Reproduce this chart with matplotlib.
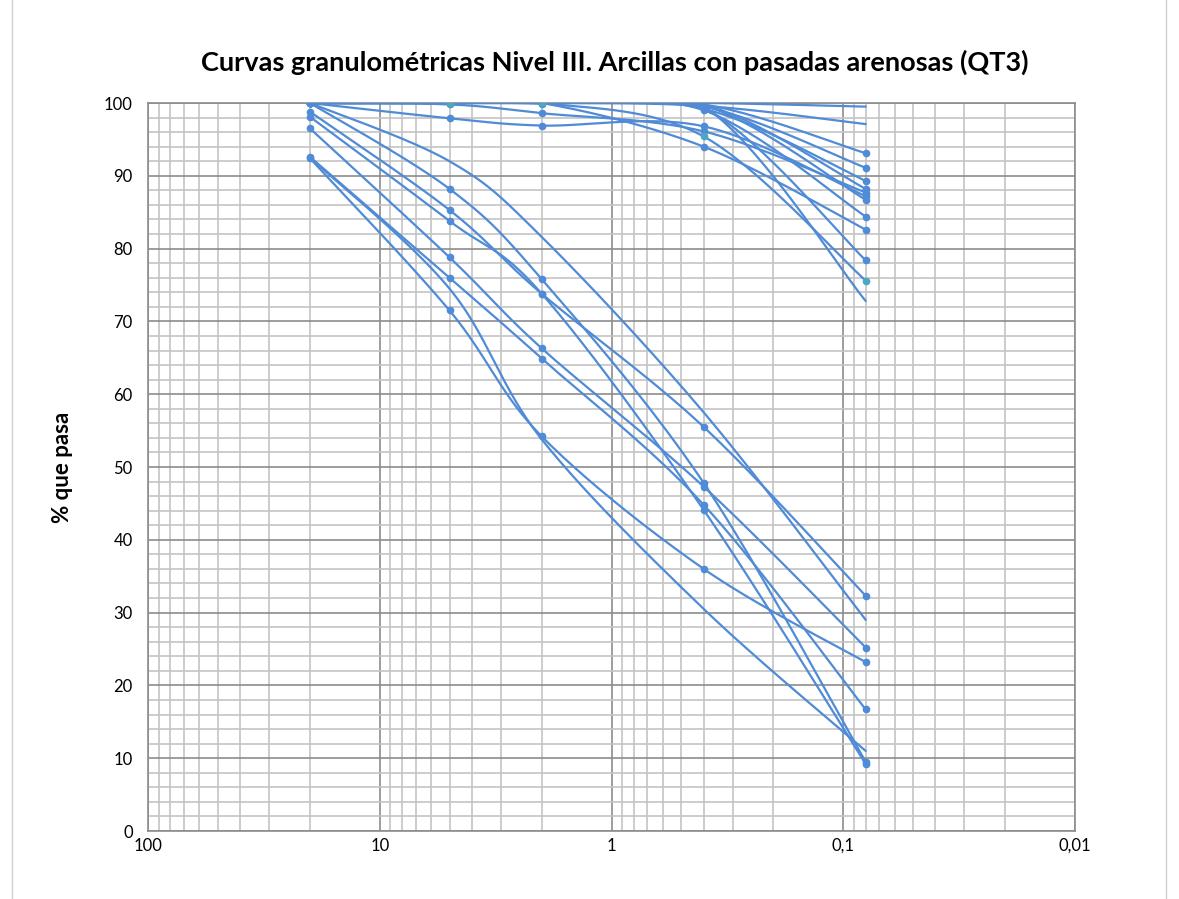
import numpy as np
import matplotlib.pyplot as plt
from matplotlib.ticker import FixedLocator, FuncFormatter, MultipleLocator
from matplotlib.patches import Rectangle

# abertura de tamices (mm)
tamices = [20, 5, 2, 0.4, 0.08]

# % que pasa por cada tamiz
m01 = [100, 100, 100, 100, 99.5]
m02 = [100, 100, 100, 99.6, 97.1]
m03 = [100, 100, 100, 99.8, 93.1]
m04 = [100, 100, 100, 99.5, 91.1]
m05 = [100, 100, 100, 99.2, 89.3]
m06 = [100, 100, 100, 99.8, 88.2]
m07 = [100, 99.8, 98.6, 96.1, 87.7]
m08 = [100, 97.9, 96.9, 96.8, 87.2]
m09 = [100, 100, 100, 99.7, 86.7]
m10 = [100, 100, 99.9, 99.0, 84.4]
m11 = [100, 100, 100, 94.0, 82.6]
m12 = [100, 100, 100, 99.3, 78.4]
m13 = [100, 100, 100, 95.4, 75.6]
m14 = [100, 100, 100, 99.5, 72.8]
m15 = [100, 88.2, 75.8, 47.8, 9.5]
m16 = [98.8, 85.3, 73.8, 55.5, 32.3]
m17 = [98.1, 83.8, 73.8, 44.1, 9.2]
m18 = [100, 92.0, 81.6, 57.5, 29.0]
m19 = [96.5, 78.8, 66.3, 47.3, 25.2]
m20 = [92.6, 76.0, 64.9, 44.8, 16.7]
m21 = [92.4, 71.5, 54.2, 36.0, 23.2]
m22 = [92.5, 74.5, 53.8, 30.5, 11.0]

muestras = [m01, m02, m03, m04, m05, m06, m07, m08, m09, m10, m11,
            m12, m13, m14, m15, m16, m17, m18, m19, m20, m21, m22]
sin_marcador = [m01, m02, m14, m18, m22]

azul = '#4f8bd6'
turquesa = '#4aa8c0'

# escala: pixeles por decada / pixeles por unidad de %
k = 231.75 / 7.28


def suavizar(xs, ys, n=40):
    # curva bezier tipo Excel en el espacio (log x, y)
    u = -np.log10(np.array(xs, dtype=float)) * k
    v = np.array(ys, dtype=float)
    p = np.column_stack([u, v])
    m = len(p)
    out = [p[0]]
    t = np.linspace(0, 1, n)[1:, None]
    for i in range(m - 1):
        a = p[i - 1] if i > 0 else p[i]
        d = p[i + 2] if i + 2 < m else p[i + 1]
        c1 = p[i] + (p[i + 1] - a) / 6
        c2 = p[i + 1] - (d - p[i]) / 6
        seg = ((1 - t) ** 3 * p[i] + 3 * (1 - t) ** 2 * t * c1
               + 3 * (1 - t) * t ** 2 * c2 + t ** 3 * p[i + 1])
        out.extend(seg)
    out = np.array(out)
    return 10 ** (-out[:, 0] / k), out[:, 1]


fig = plt.figure(figsize=(11.79, 8.99), dpi=100)
ax = fig.add_axes([148 / 1179, 1 - 831 / 899, (1075 - 148) / 1179, (831 - 103) / 899])

for s in muestras:
    xs, ys = suavizar(tamices, s)
    ax.plot(xs, ys, color=azul, lw=1.6, zorder=3, solid_capstyle='round')
    if not any(s is q for q in sin_marcador):
        c = turquesa if s is m13 else azul
        ax.plot(tamices, s, 'o', color=c, ms=4.5, mec=c, zorder=4)

ax.set_xscale('log')
ax.set_xlim(100, 0.01)
ax.set_ylim(0, 100)

ax.xaxis.set_major_locator(FixedLocator([100, 10, 1, 0.1, 0.01]))
ax.xaxis.set_minor_locator(FixedLocator([m * 10.0 ** e for e in range(-2, 2) for m in range(2, 10)]))
ax.xaxis.set_major_formatter(FuncFormatter(lambda v, p: {100: '100', 10: '10', 1: '1', 0.1: '0,1', 0.01: '0,01'}.get(round(v, 4), '')))
ax.xaxis.set_minor_formatter(FuncFormatter(lambda v, p: ''))
ax.yaxis.set_major_locator(MultipleLocator(10))
ax.yaxis.set_minor_locator(MultipleLocator(2))

ax.grid(which='major', color='#8c8c8c', lw=1.2)
ax.grid(which='minor', color='#c4c4c4', lw=1.2)
ax.set_axisbelow(True)

for sp in ax.spines.values():
    sp.set_color('#8c8c8c')
    sp.set_linewidth(1.2)

ax.tick_params(which='both', length=0, labelsize=12)
ax.tick_params(axis='x', pad=5)
ax.tick_params(axis='y', pad=11)
for lab in ax.get_xticklabels() + ax.get_yticklabels():
    lab.set_fontfamily('Lato')

ax.set_ylabel('% que pasa', fontsize=16, fontweight='bold', family='Lato', labelpad=22)
fig.text(0.5 * (148 + 1075) / 1179 + 0.003, 1 - 62 / 899,
         'Curvas granulométricas Nivel III. Arcillas con pasadas arenosas (QT3)',
         ha='center', va='center', fontsize=19.5, fontweight='bold', family='Lato')

fig.patches.append(Rectangle((12 / 1179, -0.01), 1154 / 1179, 1.02, transform=fig.transFigure,
                             fill=False, edgecolor='#d0d0d0', lw=1))

fig.savefig('out.png', dpi=100)
